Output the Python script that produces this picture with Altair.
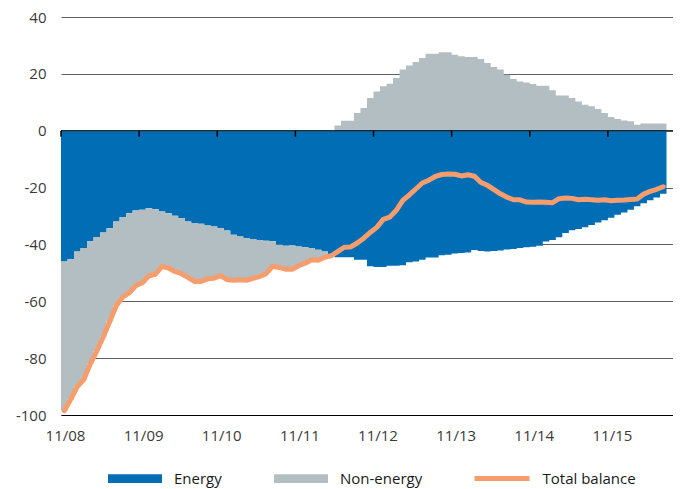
import json
import altair as alt
import pandas as pd

# ---- data (monthly, starting 11/08) ----
energy = [
    -46.0, -45.2, -42.5, -41.3, -38.9, -37.4, -35.8, -34.3, -31.9, -30.4,
    -29.0, -28.1, -27.8, -27.3, -27.6, -28.4, -29.0, -29.9, -30.7, -31.9,
    -32.5, -32.7, -33.3, -33.7, -34.3, -35.1, -36.6, -37.2, -37.8, -38.1,
    -38.4, -38.7, -38.9, -40.1, -40.5, -40.4, -40.7, -41.0, -41.3, -41.9,
    -42.5, -44.0, -44.5, -44.5, -44.5, -45.4, -45.4, -47.7, -47.9, -47.9,
    -47.5, -47.5, -47.3, -46.3, -46.0, -45.4, -44.6, -44.6, -43.8, -43.6,
    -43.2, -43.0, -42.8, -42.0, -42.3, -42.5, -42.3, -42.1, -41.8, -41.6,
    -41.3, -41.0, -40.8, -40.5, -39.0, -38.4, -37.5, -36.0, -35.0, -34.6,
    -34.0, -33.2, -32.3, -31.5, -30.6, -29.6, -28.8, -27.8, -26.6, -25.5,
    -24.5, -23.5, -22.2,
]
non_energy = [
    -52.5, -49.3, -47.5, -46.2, -43.1, -40.1, -36.7, -32.7, -29.6, -28.1,
    -28.0, -26.4, -25.7, -23.7, -22.9, -19.3, -19.3, -19.6, -19.6, -19.7,
    -20.5, -20.3, -18.8, -18.2, -16.7, -17.3, -16.0, -15.2, -14.8, -13.8,
    -12.9, -11.6, -8.8, -8.0, -8.2, -8.3, -6.8, -5.6, -4.1, -3.7,
    -2.0, 0.0, 1.8, 3.5, 3.5, 6.2, 8.0, 11.5, 13.8, 15.6,
    16.5, 18.5, 21.5, 22.9, 24.2, 25.6, 27.1, 27.1, 27.6, 27.6,
    26.7, 26.2, 25.9, 25.9, 25.2, 23.8, 22.4, 21.5, 19.7, 18.2,
    17.3, 17.0, 16.4, 15.8, 15.8, 14.2, 12.4, 12.4, 11.5, 10.3,
    9.1, 8.6, 7.6, 6.2, 4.8, 4.1, 3.6, 3.3, 2.1, 2.5,
    2.5, 2.5, 2.5,
]
total = [
    -98.5, -94.5, -90.0, -87.5, -82.0, -77.5, -72.5, -67.0, -61.5, -58.5,
    -57.0, -54.5, -53.5, -51.0, -50.5, -47.7, -48.3, -49.5, -50.3, -51.6,
    -53.0, -53.0, -52.1, -51.9, -51.0, -52.4, -52.6, -52.4, -52.6, -51.9,
    -51.3, -50.3, -47.7, -48.1, -48.7, -48.7, -47.5, -46.6, -45.4, -45.6,
    -44.5, -44.0, -42.5, -41.0, -40.9, -39.5, -37.8, -35.8, -34.0, -31.2,
    -30.4, -28.0, -24.5, -22.6, -20.5, -18.4, -17.4, -16.1, -15.4, -15.2,
    -15.3, -15.9, -15.5, -16.0, -18.2, -19.2, -20.7, -22.2, -23.4, -24.3,
    -24.3, -25.1, -25.2, -25.1, -25.2, -25.3, -23.9, -23.7, -23.8, -24.3,
    -24.1, -24.3, -24.5, -24.3, -24.6, -24.5, -24.4, -24.2, -24.0, -22.3,
    -21.3, -20.6, -19.7,
]
tick_months = [0, 12, 24, 36, 48, 60, 72, 84]
tick_labels = ["11/08", "11/09", "11/10", "11/11", "11/12", "11/13", "11/14", "11/15"]
y_ticks = [-100, -80, -60, -40, -20, 0, 20, 40]
series_names = ["Energy", "Non-energy", "Total balance"]
colors = ["#006DB5", "#B2BEC2", "#F59D6C"]

FONT = "Open Sans"

n_months = len(energy)
months = list(range(n_months))

# line data: one point per month, drawn at the middle of its month
line_df = pd.DataFrame({"xc": [m + 0.5 for m in months], "total": total})
line_df["s_t"] = series_names[2]

# step-area data: each month holds its value until the next month starts;
# the last month is closed by repeating its value at the end of the month
step_m = months + [n_months]
step_e = energy + [energy[-1]]
step_n = non_energy + [non_energy[-1]]
area_df = pd.DataFrame({"m": step_m, "energy": step_e, "non_energy": step_n})
area_df["e0"] = 0.0
area_df["n_lo"] = [e if n < 0 else 0.0 for e, n in zip(step_e, step_n)]
area_df["n_hi"] = [e + n if n < 0 else n for e, n in zip(step_e, step_n)]
area_df["s_e"] = series_names[0]
area_df["s_n"] = series_names[1]

x_scale = alt.Scale(domain=[0, 94], nice=False, zero=False)
y_scale = alt.Scale(domain=[-100, 40], nice=False)
fill_scale = alt.Scale(domain=series_names[:2], range=colors[:2])
stroke_scale = alt.Scale(domain=[series_names[2]], range=[colors[2]])

x_axis = alt.Axis(
    values=tick_months,
    labelExpr=json.dumps(tick_labels) + "[round(datum.value / 12)]",
    ticks=False, grid=False, domain=True, domainColor="#000000", domainWidth=1,
    labelFont=FONT, labelFontSize=15, labelColor="#3a3a3a",
    labelPadding=13, labelOffset=4, labelFlush=False, labelOverlap=False, title=None,
)
y_axis = alt.Axis(
    values=y_ticks, labelExpr="datum.value + ''",
    ticks=False, domain=False, grid=True, gridColor="#5f5f5f", gridWidth=1,
    labelFont=FONT, labelFontSize=15, labelColor="#3a3a3a",
    labelPadding=15, title=None, zindex=0,
)

rect_path = "M-1,-0.1611L1,-0.1611L1,0.1611L-1,0.1611Z"
fill_legend = alt.Legend(
    title=None, orient="none", legendX=47, legendY=434.7, direction="horizontal",
    symbolType=rect_path, symbolSize=2916, symbolStrokeWidth=0, symbolOpacity=1,
    labelOffset=12, columnPadding=52, padding=0,
    labelFont=FONT, labelFontSize=15, labelColor="#1a1a1a",
)
stroke_legend = alt.Legend(
    title=None, orient="none", legendX=411, legendY=431.5, direction="horizontal",
    symbolType="stroke", symbolSize=3025, symbolStrokeWidth=5, symbolOpacity=1,
    labelOffset=10.5, padding=0,
    labelFont=FONT, labelFontSize=15, labelColor="#1a1a1a",
)

area_base = alt.Chart(area_df)

energy_layer = area_base.mark_area(interpolate="step-after", opacity=1).encode(
    x=alt.X("m:Q", scale=x_scale, axis=x_axis),
    y=alt.Y("e0:Q", scale=y_scale, axis=y_axis),
    y2="energy:Q",
    fill=alt.Fill("s_e:N", scale=fill_scale, legend=fill_legend),
)
non_layer = area_base.mark_area(interpolate="step-after", opacity=1).encode(
    x="m:Q",
    y="n_lo:Q",
    y2="n_hi:Q",
    fill=alt.Fill("s_n:N", scale=fill_scale, legend=fill_legend),
)
zero_rule = alt.Chart(pd.DataFrame({"v": [0]})).mark_rule(color="#000000", strokeWidth=1).encode(
    y="v:Q"
)
zero_ticks = alt.Chart(pd.DataFrame({"m": tick_months})).mark_rule(
    color="#000000", strokeWidth=1.5, y2Offset=6
).encode(x="m:Q", y=alt.datum(0), y2=alt.datum(0))

line_layer = alt.Chart(line_df).mark_line(strokeWidth=5, strokeJoin="round", strokeCap="round").encode(
    x="xc:Q",
    y="total:Q",
    stroke=alt.Stroke("s_t:N", scale=stroke_scale, legend=stroke_legend),
)

chart = (
    alt.layer(energy_layer, non_layer, zero_rule, zero_ticks, line_layer)
    .properties(
        width=612, height=398,
        autosize=alt.AutoSizeParams(type="none"),
        padding={"left": 53, "top": 9, "right": 0, "bottom": 74},
    )
    .configure_view(stroke=None)
)

chart.save("out.html", embed_options={"renderer": "svg", "actions": False})
